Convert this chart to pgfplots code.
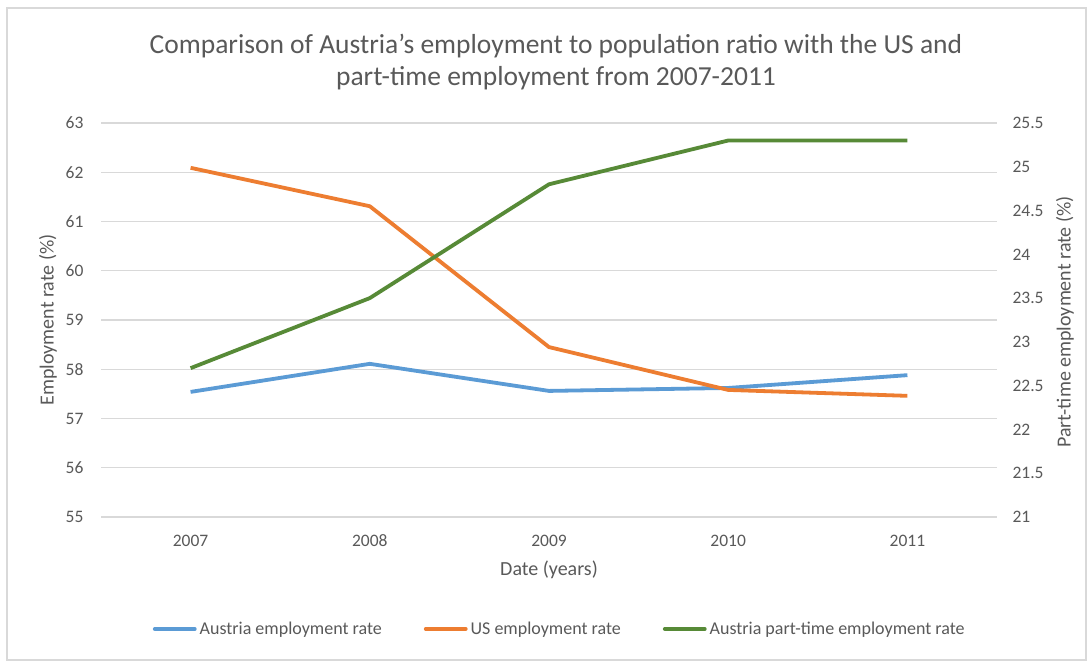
\documentclass[border=0pt]{standalone}
\usepackage{fontspec}
\setmainfont{Carlito}
\usepackage{pgfplots}
\pgfplotsset{compat=1.18}
\definecolor{txt}{HTML}{595959}
\definecolor{grd}{HTML}{D9D9D9}
\definecolor{cblue}{HTML}{5B9BD5}
\definecolor{corange}{HTML}{ED7D31}
\definecolor{cgreen}{HTML}{578A37}
\begin{document}
\begin{tikzpicture}
\path[use as bounding box, fill=white] (0pt,0pt) rectangle (1092pt,663pt);
\draw[grd, line width=1.5pt] (7pt,3pt) rectangle (1086pt,655pt);
\node[text=txt, align=center, font=\fontsize{27.5}{32}\selectfont] at (556pt,601pt) {Comparison of Austria's employment to population ratio with the US and\\part-time employment from 2007-2011};
\node[text=txt, font=\fontsize{20}{24}\selectfont, rotate=90] at (48pt,343pt) {Employment rate (\%)};
\node[text=txt, font=\fontsize{20}{24}\selectfont, rotate=90] at (1065pt,341pt) {Part-time employment rate (\%)};
\node[text=txt, font=\fontsize{20}{24}\selectfont] at (549pt,93pt) {Date (years)};
\begin{axis}[at={(101pt,146pt)}, anchor=south west, scale only axis, width=896pt, height=394pt,
 xmin=-0.5, xmax=4.5, ymin=55, ymax=63,
 xtick={0,1,2,3,4}, xticklabels={2007,2008,2009,2010,2011},
 ytick={55,56,...,63},
 ymajorgrids, grid style={grd, line width=1.3pt},
 axis line style={draw=none}, major tick length=0pt,
 ticklabel style={font=\fontsize{17.5}{21}\selectfont, text=txt},
 /pgf/number format/assume math mode=true,
 yticklabel style={xshift=-14pt},
 xticklabel style={yshift=-14pt, text height=12pt, text depth=0pt},
 clip=false]
\addplot[cblue, line width=3.8pt, line join=round] coordinates {(0,57.54) (1,58.11) (2,57.56) (3,57.62) (4,57.88)};
\addplot[corange, line width=3.8pt, line join=round] coordinates {(0,62.09) (1,61.31) (2,58.45) (3,57.58) (4,57.46)};
\end{axis}
\begin{axis}[at={(101pt,146pt)}, anchor=south west, scale only axis, width=896pt, height=394pt,
 xmin=-0.5, xmax=4.5, ymin=21, ymax=25.5,
 hide x axis, axis y line*=right,
 ytick={21,21.5,...,25.5},
 axis line style={draw=none}, major tick length=0pt,
 ticklabel style={font=\fontsize{17.5}{21}\selectfont, text=txt},
 /pgf/number format/assume math mode=true,
 yticklabel style={xshift=12pt},
 legend style={at={(rel axis cs:0.512,-0.284)}, anchor=center, draw=none, fill=none, legend columns=3,
   font=\fontsize{18}{22}\selectfont, text=txt, inner sep=0pt,
   /tikz/every even column/.append style={column sep=40pt},
   /tikz/every odd column/.append style={column sep=1pt}},
 legend image code/.code={\draw[#1, line width=3.8pt, line cap=round] (0pt,0pt) -- (40pt,0pt);},
 clip=false]
\addlegendimage{cblue}
\addlegendentry{Austria employment rate}
\addlegendimage{corange}
\addlegendentry{US employment rate}
\addplot[cgreen, line width=3.8pt, line join=round] coordinates {(0,22.70) (1,23.50) (2,24.80) (3,25.30) (4,25.30)};
\addlegendentry{Austria part-time employment rate}
\end{axis}
\end{tikzpicture}
\end{document}
